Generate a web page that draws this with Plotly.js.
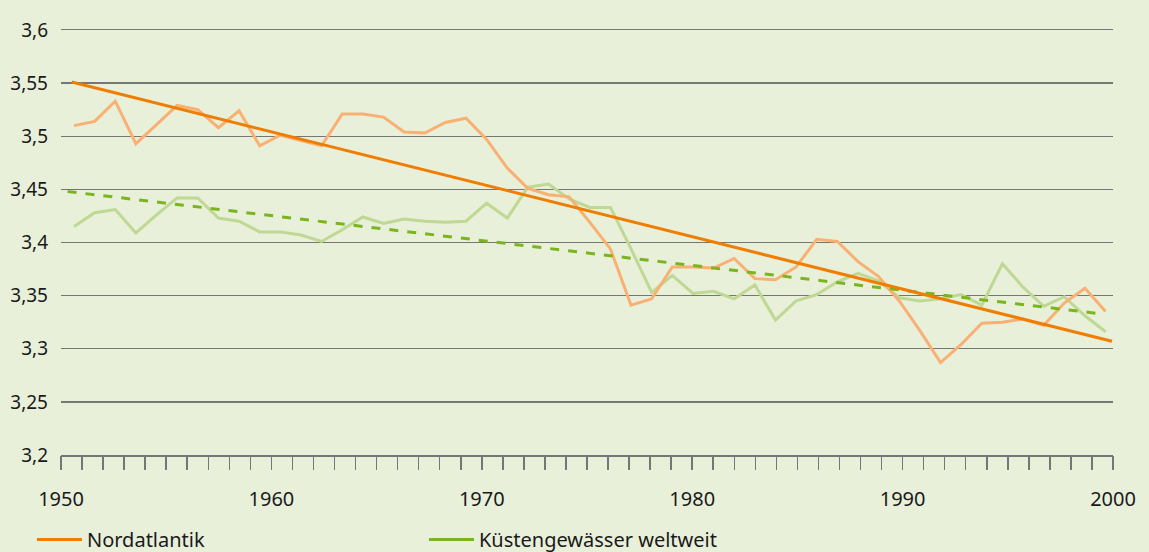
<!DOCTYPE html>
<html>
<head>
<meta charset="utf-8">
<script src="https://cdn.plot.ly/plotly-3.0.1.min.js"></script>
<style>
html,body{margin:0;padding:0;background:#E9F0DA;}
#chart{width:1149px;height:552px;}
</style>
</head>
<body>
<div id="chart"></div>
<script>
// Years of the series (one value per year)
const years = [];
for (let y = 1950; y <= 2000; y++) years.push(y);

// Nordatlantik (light orange)
const nordatlantik = [
  3.510, 3.514, 3.533, 3.493, 3.511, 3.529, 3.525, 3.508, 3.524, 3.491,
  3.501, 3.496, 3.491, 3.521, 3.521, 3.518, 3.504, 3.503, 3.513, 3.517,
  3.497, 3.470, 3.451, 3.445, 3.443, 3.419, 3.394, 3.341, 3.347, 3.377,
  3.377, 3.376, 3.385, 3.366, 3.365, 3.377, 3.403, 3.401, 3.382, 3.368,
  3.345, 3.317, 3.287, 3.304, 3.324, 3.325, 3.328, 3.322, 3.343, 3.357,
  3.335
];

// Küstengewässer weltweit (light green)
const kuestengewaesser = [
  3.415, 3.428, 3.431, 3.409, 3.426, 3.442, 3.442, 3.423, 3.420, 3.410,
  3.410, 3.407, 3.401, 3.412, 3.424, 3.418, 3.422, 3.420, 3.419, 3.420,
  3.437, 3.423, 3.452, 3.455, 3.441, 3.433, 3.433, 3.394, 3.353, 3.369,
  3.352, 3.354, 3.347, 3.360, 3.327, 3.345, 3.351, 3.363, 3.371, 3.364,
  3.348, 3.345, 3.347, 3.351, 3.341, 3.380, 3.358, 3.340, 3.349, 3.331,
  3.316
];

// Linear trend lines (end points)
const trendNordX = [1949.89, 2000.31];
const trendNordY = [3.551, 3.307];
const trendKuesteX = [1949.69, 1999.73];
const trendKuesteY = [3.448, 3.333];

// Axis ticks
const yTickVals = [3.2, 3.25, 3.3, 3.35, 3.4, 3.45, 3.5, 3.55, 3.6];
const yTickText = ["3,2", "3,25", "3,3", "3,35", "3,4", "3,45", "3,5", "3,55", "3,6"];
const xTickVals = [1950, 1960, 1970, 1980, 1990, 2000];
const xTickText = ["1950", "1960", "1970", "1980", "1990", "2000"];

// Legend labels
const seriesNames = ["Nordatlantik", "Küstengewässer weltweit"];

const C_ORANGE_LIGHT = "#F8B073";
const C_ORANGE = "#EF7D00";
const C_GREEN_LIGHT = "#BFD893";
const C_GREEN = "#7AB51D";
const GRID = "#767676";
const FONT = "Noto Sans, Open Sans, sans-serif";

const traces = [
  {x: years, y: kuestengewaesser, xaxis: "x2", type: "scatter", mode: "lines",
   line: {color: C_GREEN_LIGHT, width: 3}, showlegend: false, hoverinfo: "skip"},
  {x: years, y: nordatlantik, xaxis: "x2", type: "scatter", mode: "lines",
   line: {color: C_ORANGE_LIGHT, width: 3}, showlegend: false, hoverinfo: "skip"},
  {x: trendKuesteX, y: trendKuesteY, xaxis: "x2", type: "scatter", mode: "lines",
   line: {color: C_GREEN, width: 3, dash: "dash"}, showlegend: false, hoverinfo: "skip"},
  {x: trendNordX, y: trendNordY, xaxis: "x2", type: "scatter", mode: "lines",
   line: {color: C_ORANGE, width: 3}, showlegend: false, hoverinfo: "skip"},
  // legend entries
  {x: [null], y: [null], type: "scatter", mode: "lines", name: seriesNames[0],
   line: {color: C_ORANGE, width: 3}},
  {x: [null], y: [null], type: "scatter", mode: "lines", name: seriesNames[1],
   line: {color: C_GREEN, width: 3}},
  // carrier for the yearly tick axis
  {x: [null], y: [null], xaxis: "x3", type: "scatter", mode: "lines", showlegend: false, hoverinfo: "skip"}
];

const layout = {
  width: 1149, height: 552,
  paper_bgcolor: "#E9F0DA",
  plot_bgcolor: "#E9F0DA",
  margin: {l: 61, r: 36, t: 30, b: 97, pad: 0, autoexpand: false},
  font: {family: FONT, size: 19, color: "#1a1a1a"},
  separators: ",.",
  showlegend: true,
  legend: {
    orientation: "h", x: -0.0276, xanchor: "left", y: -0.153, yanchor: "top",
    bgcolor: "rgba(0,0,0,0)", font: {family: FONT, size: 20, color: "#1a1a1a"},
    entrywidth: 332, entrywidthmode: "pixels", itemwidth: 45
  },
  xaxis: {
    range: [1950, 2000], tickvals: xTickVals, ticktext: xTickText,
    ticks: "outside", ticklen: 25, tickwidth: 1, tickcolor: "rgba(0,0,0,0)",
    showgrid: false, zeroline: false, showline: true, mirror: true, linecolor: GRID, linewidth: 1.5,
    tickfont: {family: FONT, size: 20, color: "#1a1a1a"},
    automargin: false, fixedrange: true
  },
  xaxis2: {
    range: [1949.37, 2000.36], overlaying: "x", visible: false, fixedrange: true
  },
  xaxis3: {
    range: [1950, 2000], overlaying: "x", anchor: "y", side: "bottom",
    tick0: 1950, dtick: 1, ticks: "outside", ticklen: 14, tickwidth: 1.5, tickcolor: GRID,
    showticklabels: false, showline: false, showgrid: false, zeroline: false,
    automargin: false, fixedrange: true
  },
  yaxis: {
    range: [3.2, 3.6], tickvals: yTickVals, ticktext: yTickText,
    showgrid: true, gridcolor: GRID, gridwidth: 1.3,
    zeroline: false, showline: false, ticks: "",
    tickfont: {family: FONT, size: 19, color: "#1a1a1a"}, ticklabelstandoff: 12,
    automargin: false, fixedrange: true
  }
};

Plotly.newPlot("chart", traces, layout, {displayModeBar: false, staticPlot: true});
</script>
</body>
</html>
